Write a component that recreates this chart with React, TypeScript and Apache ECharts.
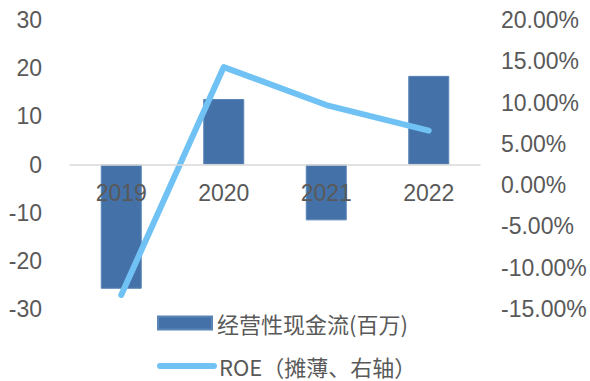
import React, { useEffect, useRef } from "react";
import * as echarts from "echarts";

const years = ["2019", "2020", "2021", "2022"];
const cashFlow = [-25.8, 13.6, -11.6, 18.4];
const roe = [-13.3, 14.3, 9.7, 6.6];
const cashFlowName = "经营性现金流(百万)";
const roeName = "ROE（摊薄、右轴）";

const FONT = "'Liberation Sans', Arial, 'Noto Sans CJK SC', sans-serif";
const LABEL = "#595959";
const BAR = "#4472a8";
const LINE = "#71c2f4";

// grid geometry: the category axis sits on the zero of the left axis
const GRID_TOP = 20;
const GRID_BOTTOM_Y = 309;
const ZERO_Y = (GRID_TOP + GRID_BOTTOM_Y) / 2;

const legendText = {
  color: LABEL,
  fontSize: 22,
  lineHeight: 22,
  fontFamily: "'Noto Sans CJK SC', sans-serif",
};

export default function App() {
  const ref = useRef<HTMLDivElement>(null);

  useEffect(() => {
    if (!ref.current) return;
    const chart = echarts.init(ref.current, null, { renderer: "svg" });
    chart.setOption({
      animation: false,
      backgroundColor: "#ffffff",
      textStyle: { fontFamily: FONT },
      grid: { left: 70, right: 110, top: GRID_TOP, bottom: 381 - GRID_BOTTOM_Y },
      legend: [
        {
          left: 157,
          top: 312,
          padding: 0,
          itemGap: 0,
          itemWidth: 54,
          itemHeight: 13,
          textStyle: legendText,
          data: [{ name: cashFlowName, icon: "rect" }],
        },
        {
          left: 157,
          top: 355,
          padding: 0,
          itemGap: 0,
          itemWidth: 54,
          itemHeight: 13,
          textStyle: legendText,
          lineStyle: { width: 6, cap: "round" },
          data: [{ name: roeName, itemStyle: { opacity: 0 } }],
        },
      ],
      xAxis: {
        type: "category",
        data: years,
        z: 10,
        offset: -(GRID_BOTTOM_Y - ZERO_Y),
        axisLine: { onZero: false, lineStyle: { color: "#d9d9d9", width: 1.5 } },
        axisTick: { show: false },
        axisLabel: { color: LABEL, fontSize: 23, margin: 17 },
      },
      yAxis: [
        {
          type: "value",
          min: -30,
          max: 30,
          interval: 10,
          axisLine: { show: false },
          axisTick: { show: false },
          splitLine: { show: false },
          axisLabel: { color: LABEL, fontSize: 23, margin: 28 },
        },
        {
          type: "value",
          min: -15,
          max: 20,
          interval: 5,
          axisLine: { show: false },
          axisTick: { show: false },
          splitLine: { show: false },
          axisLabel: {
            color: LABEL,
            fontSize: 23,
            margin: 21,
            formatter: (v: number) => v.toFixed(2) + "%",
          },
        },
      ],
      series: [
        {
          name: cashFlowName,
          type: "bar",
          data: cashFlow,
          barWidth: 41,
          itemStyle: { color: BAR, borderColor: "#5a85b6", borderWidth: 1 },
        },
        {
          name: roeName,
          type: "line",
          yAxisIndex: 1,
          data: roe,
          symbol: "none",
          z: 5,
          lineStyle: { color: LINE, width: 6, cap: "round", join: "round" },
          itemStyle: { color: LINE },
        },
      ],
    });
    return () => chart.dispose();
  }, []);

  return <div ref={ref} style={{ width: 590, height: 381, position: "absolute", left: 0, top: 0 }} />;
}
